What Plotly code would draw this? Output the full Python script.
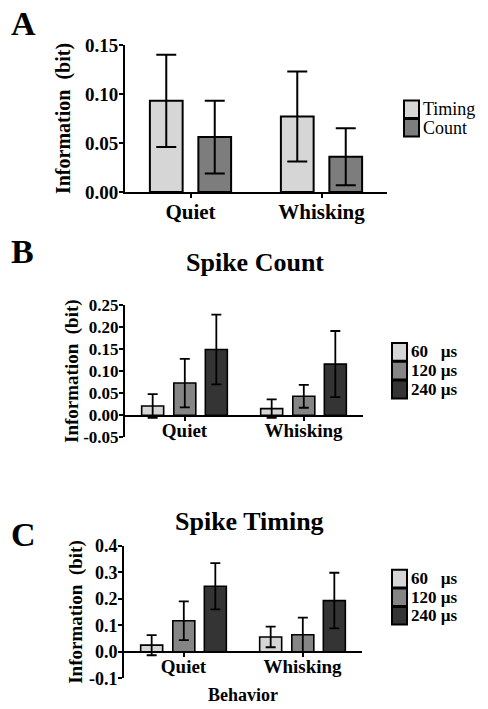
import plotly.graph_objects as go

# ---------------- data ----------------
behaviors = ["Quiet", "Whisking"]

# Panel A
a_series = ["Timing", "Count"]
a_means = {"Timing": [0.093, 0.077], "Count": [0.056, 0.036]}
a_errs = {"Timing": [0.047, 0.046], "Count": [0.037, 0.029]}

# Panel B (Spike Count)
bin_labels = ["60\u00a0\u00a0\u00a0µs", "120 µs", "240 µs"]
b_means = [[0.021, 0.015], [0.073, 0.043], [0.149, 0.116]]
b_errs = [[0.027, 0.021], [0.055, 0.026], [0.079, 0.075]]

# Panel C (Spike Timing)
c_means = [[0.025, 0.056], [0.117, 0.064], [0.247, 0.193]]
c_errs = [[0.038, 0.039], [0.073, 0.065], [0.087, 0.105]]

a_ticks = [0.0, 0.05, 0.10, 0.15]
a_ticktext = ["0.00", "0.05", "0.10", "0.15"]
b_ticks = [-0.05, 0.0, 0.05, 0.10, 0.15, 0.20, 0.25]
b_ticktext = ["-0.05", "0.00", "0.05", "0.10", "0.15", "0.20", "0.25"]
c_ticks = [-0.1, 0.0, 0.1, 0.2, 0.3, 0.4]
c_ticktext = ["-0.1", "0.0", "0.1", "0.2", "0.3", "0.4"]

# ---------------- styling ----------------
W, H = 488, 709
SERIF = "Liberation Serif, Times New Roman, serif"
colors3 = ["#d6d6d6", "#858585", "#343434"]
colorsA = {"Timing": "#d6d6d6", "Count": "#7d7d7d"}


def px_x(p):
    return p / W


def px_y(p):
    return 1 - p / H


fig = go.Figure()

# Panel A bars
a_width = 0.25
a_offsets = [-0.31, 0.06]
for i, s in enumerate(a_series):
    fig.add_trace(go.Bar(
        x=list(range(len(behaviors))), y=a_means[s], name=s,
        width=a_width, offset=a_offsets[i],
        marker=dict(color=colorsA[s], line=dict(color="black", width=2)),
        error_y=dict(type="data", array=a_errs[s], color="black", thickness=2, width=10),
        xaxis="x", yaxis="y", showlegend=False,
    ))

# Panels B and C bars
bc_width = 0.185
bc_offsets = [-0.36, -0.09, 0.175]
for panel, (means, errs, xa, ya) in enumerate([
        (b_means, b_errs, "x2", "y2"),
        (c_means, c_errs, "x3", "y3")]):
    for i, lab in enumerate(bin_labels):
        fig.add_trace(go.Bar(
            x=list(range(len(behaviors))), y=means[i], name=lab,
            width=bc_width, offset=bc_offsets[i],
            marker=dict(color=colors3[i], line=dict(color="black", width=1.6)),
            error_y=dict(type="data", array=errs[i], color="black", thickness=1.8, width=5),
            xaxis=xa, yaxis=ya, showlegend=False,
        ))

# Panel geometry (pixels)
A_x = (125, 387); A_y = (45, 192)
B_x = (125, 363); B_y = (305, 437.3)
C_x = (124, 362); C_y = (545.7, 678.3)
B_zero = 415.7
C_zero = 651.7

axis_common = dict(showline=True, linecolor="black", linewidth=2, ticks="outside",
                   tickcolor="black", ticklen=4, tickwidth=1.5, showgrid=False,
                   zeroline=False, automargin=False)

fig.update_layout(
    width=W, height=H, margin=dict(l=0, r=0, t=0, b=0, autoexpand=False),
    paper_bgcolor="white", plot_bgcolor="white",
    font=dict(family=SERIF, color="black", size=16, weight="bold"),
    barmode="group", showlegend=False,
    xaxis=dict(domain=[px_x(A_x[0]), px_x(A_x[1])], anchor="y", range=[-0.5, 1.5],
               tickmode="array", tickvals=[0, 1], ticktext=behaviors, ticklabelstandoff=-4,
               tickfont=dict(size=21, weight="bold"), **axis_common),
    yaxis=dict(domain=[px_y(A_y[1]), px_y(A_y[0])], anchor="x", range=[0, 0.15],
               tickmode="array", tickvals=a_ticks, ticktext=a_ticktext, ticklabelstandoff=-3,
               tickfont=dict(size=19, weight="bold"),
               title=dict(text="Information\u00a0\u00a0(bit)", font=dict(size=20, weight="bold"), standoff=9),
               **axis_common),
    xaxis2=dict(domain=[px_x(B_x[0]), px_x(B_x[1])], anchor="free", position=px_y(B_zero),
                range=[-0.5, 1.5], tickmode="array", tickvals=[0, 1], ticktext=behaviors,
                ticklabelstandoff=-7,
                tickfont=dict(size=19, weight="bold"), **axis_common),
    yaxis2=dict(domain=[px_y(B_y[1]), px_y(B_y[0])], anchor="x2", range=[-0.05, 0.25],
                tickmode="array", tickvals=b_ticks, ticktext=b_ticktext, ticklabelstandoff=-3,
                tickfont=dict(size=17, weight="bold"),
                title=dict(text="Information\u00a0\u00a0(bit)", font=dict(size=19, weight="bold"), standoff=0),
                **axis_common),
    xaxis3=dict(domain=[px_x(C_x[0]), px_x(C_x[1])], anchor="free", position=px_y(C_zero),
                range=[-0.5, 1.5], tickmode="array", tickvals=[0, 1], ticktext=behaviors,
                ticklabelstandoff=-7,
                tickfont=dict(size=19, weight="bold"),
                title=dict(text="Behavior", font=dict(size=18, weight="bold"), standoff=12),
                **axis_common),
    yaxis3=dict(domain=[px_y(C_y[1]), px_y(C_y[0])], anchor="x3", range=[-0.1, 0.4],
                tickmode="array", tickvals=c_ticks, ticktext=c_ticktext, ticklabelstandoff=-3,
                tickfont=dict(size=18, weight="bold"),
                title=dict(text="Information\u00a0\u00a0(bit)", font=dict(size=19, weight="bold"), standoff=1),
                **axis_common),
)

annots = [
    ("A", 23.5, 24, 34), ("B", 22, 251, 34), ("C", 23, 534.5, 34),
    ("Spike Count", 255, 262, 26), ("Spike Timing", 250, 521.7, 26),
]
for text, x, y, size in annots:
    fig.add_annotation(text=text, x=px_x(x), y=px_y(y), xref="paper", yref="paper",
                       showarrow=False, xanchor="center", yanchor="middle",
                       font=dict(size=size, family=SERIF, weight="bold", color="black"))


# -------- legends (key boxes + labels) --------
def add_key(labels, fills, box_x, box_top, box_h, text_x, size, weight):
    for i, (lab, col) in enumerate(zip(labels, fills)):
        y0 = box_top + i * box_h
        y1 = y0 + box_h
        fig.add_shape(type="rect", xref="paper", yref="paper",
                      x0=px_x(box_x), x1=px_x(box_x + 15), y0=px_y(y1 - 0.5), y1=px_y(y0 + 0.5),
                      fillcolor=col, line=dict(color="black", width=2))
        fig.add_annotation(text=lab, x=px_x(text_x), y=px_y((y0 + y1) / 2),
                           xref="paper", yref="paper", showarrow=False,
                           xanchor="left", yanchor="middle",
                           font=dict(size=size, family=SERIF, weight=weight, color="black"))


add_key(a_series, [colorsA[s] for s in a_series], 404, 100, 18.5, 421, 18, "normal")
add_key(bin_labels, colors3, 392, 342.5, 18.8, 409, 17, "bold")
add_key(bin_labels, colors3, 392, 569.3, 18.6, 409, 17, "bold")

fig.write_html("out.html", config={"displayModeBar": False},
               post_script="document.body.style.margin='0';document.body.style.overflow='hidden';")
